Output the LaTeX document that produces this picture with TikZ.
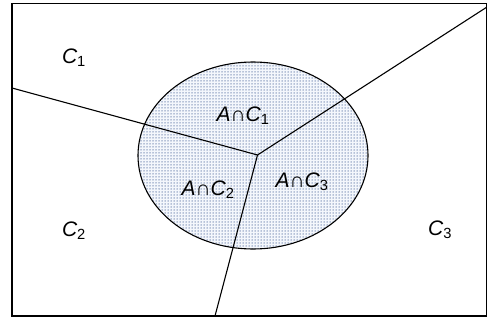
\documentclass[tikz,border=0pt]{standalone}
\usepackage{fontspec}
\setmainfont{Liberation Sans}
\usepackage{tikz}
\usetikzlibrary{patterns.meta}

\definecolor{dotblue}{RGB}{120,140,180}
\definecolor{lightfill}{RGB}{244,247,252}

\newcommand{\sub}[1]{\textsubscript{\upshape #1}}

\tikzset{
  region/.style={font=\fontsize{21}{25}\selectfont\itshape},
  border/.style={line width=1.1pt, black}
}

\begin{document}
\begin{tikzpicture}[x=1pt, y=-1pt]
    \useasboundingbox (0,0) rectangle (487,321);

    % Set A (dotted ellipse)
    \fill[lightfill] (253,155.5) ellipse (115 and 93.5);
    \fill[pattern={Dots[radius=0.75pt, distance=3pt]}, pattern color=dotblue] (253,155.5) ellipse (115 and 93.5);
    \draw[border] (253,155.5) ellipse (115 and 93.5);

    % Outer frame
    \draw[border] (12,3.5) rectangle (487,316);

    % Partition lines meeting in one point
    \coordinate (mid) at (257.5,155);
    \coordinate (westend) at (12,88);
    \coordinate (eastend) at (487,7);
    \coordinate (southend) at (215,316);
    \draw[border] (westend) -- (mid);
    \draw[border] (eastend) -- (mid);
    \draw[border] (southend) -- (mid);

    % Cell labels
    \node[region] (c1) at (74,58) {C\sub{1}};
    \node[region] (c2) at (74,231) {C\sub{2}};
    \node[region] (c3) at (440,230) {C\sub{3}};

    % Intersections with A
    \node[region] (ac1) at (243,116) {A\textup{∩}C\sub{1}};
    \node[region] (ac2) at (208,190) {A\textup{∩}C\sub{2}};
    \node[region] (ac3) at (302,182) {A\textup{∩}C\sub{3}};
\end{tikzpicture}
\end{document}
